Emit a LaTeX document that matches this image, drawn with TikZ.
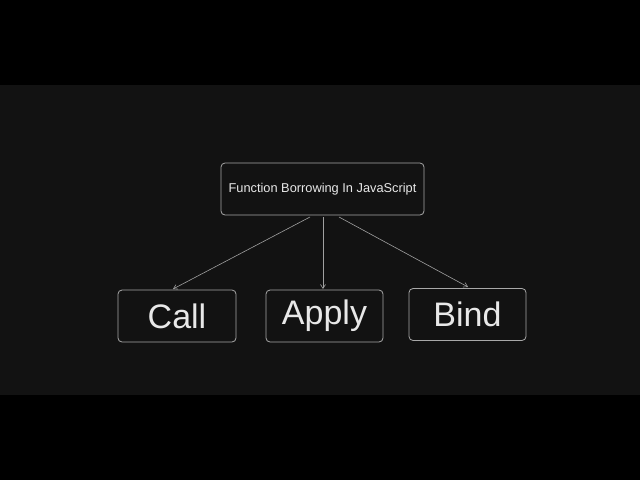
\documentclass[tikz,border=0pt]{standalone}
\usepackage{fontspec}
\setmainfont{Liberation Sans}
\usetikzlibrary{arrows.meta}
\definecolor{bandgray}{HTML}{121212}
\definecolor{boxline}{HTML}{A8A8A8}
\definecolor{txt}{HTML}{E8E8E8}
\definecolor{arrowc}{HTML}{A0A0A0}
\begin{document}
\begin{tikzpicture}[x=1pt,y=-1pt,
  box/.style={draw=boxline, line width=0.8pt, rounded corners=4pt, fill=bandgray, text=txt, inner sep=0pt},
  bigbox/.style={box, minimum width=118pt, minimum height=52pt, font=\fontsize{34}{36}\selectfont},
  conn/.style={draw=arrowc, line width=0.6pt, -{Straight Barb[length=4pt,width=5pt]}}]
  \fill[black] (0,0) rectangle (640,480);
  \useasboundingbox (0,0) rectangle (640,480);
  \fill[bandgray] (0,85) rectangle (640,395);
  \node[box, minimum width=203pt, minimum height=52pt, font=\fontsize{12.8}{14}\selectfont] (top) at (322.5,189) {Function Borrowing In JavaScript};
  \node[bigbox] (call) at (177,316) {Call};
  \node[bigbox, minimum width=117pt] (apply) at (324.5,316) {Apply};
  \node[bigbox, minimum width=117pt] (bind) at (467.5,314.5) {Bind};
  \coordinate (s1) at (310,217);
  \coordinate (s2) at (323,217);
  \coordinate (s3) at (339,217);
  \coordinate (e1) at (173,289);
  \coordinate (e2) at (323,289);
  \coordinate (e3) at (468,287);
  \draw[conn] (s1) -- (e1);
  \draw[conn] (s2) -- (e2);
  \draw[conn] (s3) -- (e3);
\end{tikzpicture}
\end{document}
